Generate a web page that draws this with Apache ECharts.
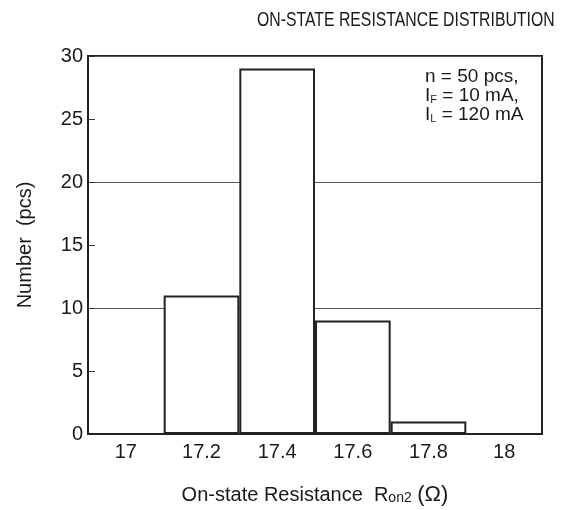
<!DOCTYPE html>
<html>
<head>
<meta charset="utf-8">
<script src="https://cdn.jsdelivr.net/npm/echarts@6/dist/echarts.min.js"></script>
<style>
  html, body { margin: 0; padding: 0; background: #fff; }
  #chart { width: 580px; height: 510px; }
</style>
</head>
<body>
<div id="chart"></div>
<script>
// histogram bins (Ron2, ohm) and counts
const categories = ['17', '17.2', '17.4', '17.6', '17.8', '18']
const counts = [0, 11, 29, 9, 1, 0]
const yMin = 0
const yMax = 30
const yStep = 5
const gridStep = 10

const font = '"Liberation Sans", Arial, sans-serif'
const ink = '#1a1a1a'

const chart = echarts.init(document.getElementById('chart'))

chart.setOption({
  animation: false,
  backgroundColor: '#fff',
  textStyle: { fontFamily: font, color: ink },
  grid: {
    left: 88,
    right: 38,
    top: 56,
    bottom: 76,
    outerBoundsMode: 'none',
    containLabel: false,
    show: true,
    borderColor: '#222',
    borderWidth: 2
  },
  xAxis: {
    type: 'category',
    data: categories,
    boundaryGap: true,
    axisLine: { lineStyle: { color: '#222', width: 2 } },
    axisTick: { show: false },
    axisLabel: { fontSize: 20, color: ink, margin: 8, fontFamily: font },
    name: '{a|On-state Resistance  R}{s|on2}{a| }{o|(Ω)}',
    nameLocation: 'middle',
    nameGap: 50,
    nameTextStyle: {
      rich: {
        a: { fontSize: 20, color: ink, fontFamily: font },
        s: { fontSize: 14, color: ink, fontFamily: font, verticalAlign: 'bottom', padding: [0, 0, 1, 0] },
        o: { fontSize: 22, color: ink, fontFamily: font }
      }
    }
  },
  yAxis: [
    {
      type: 'value',
      min: yMin,
      max: yMax,
      interval: yStep,
      axisLine: { show: true, lineStyle: { color: '#222', width: 2 } },
      axisTick: { show: true, inside: true, length: 7, lineStyle: { color: '#333', width: 1 } },
      splitLine: { show: false },
      axisLabel: { fontSize: 20, color: ink, margin: 5, fontFamily: font },
      name: 'Number  (pcs)',
      nameLocation: 'middle',
      nameGap: 53,
      nameTextStyle: { fontSize: 20, color: ink, fontFamily: font }
    },
    {
      type: 'value',
      min: yMin,
      max: yMax,
      interval: gridStep,
      position: 'left',
      axisLine: { show: false },
      axisTick: { show: false },
      axisLabel: { show: false },
      splitLine: { show: true, lineStyle: { color: '#555', width: 1 } }
    }
  ],
  series: [
    {
      type: 'bar',
      data: counts,
      barWidth: '100%',
      itemStyle: { color: '#fff', borderColor: '#222', borderWidth: 2 }
    }
  ],
  graphic: [
    {
      // condensed title, like the original artwork
      type: 'text',
      x: 257,
      y: 10,
      scaleX: 0.79,
      style: {
        text: 'ON-STATE RESISTANCE DISTRIBUTION',
        fontSize: 20,
        fontFamily: font,
        fill: ink
      }
    },
    {
      type: 'text',
      left: 425,
      top: 67,
      z: 100,
      style: {
        text: '{a|n = 50 pcs,}\n{a|I}{s|F}{a| = 10 mA,}\n{a|I}{s|L}{a| = 120 mA}',
        rich: {
          a: { fontSize: 19, fontFamily: font, fill: ink, lineHeight: 19 },
          s: { fontSize: 11, fontFamily: font, fill: ink, lineHeight: 19, verticalAlign: 'bottom' }
        }
      }
    }
  ]
})
</script>
</body>
</html>
